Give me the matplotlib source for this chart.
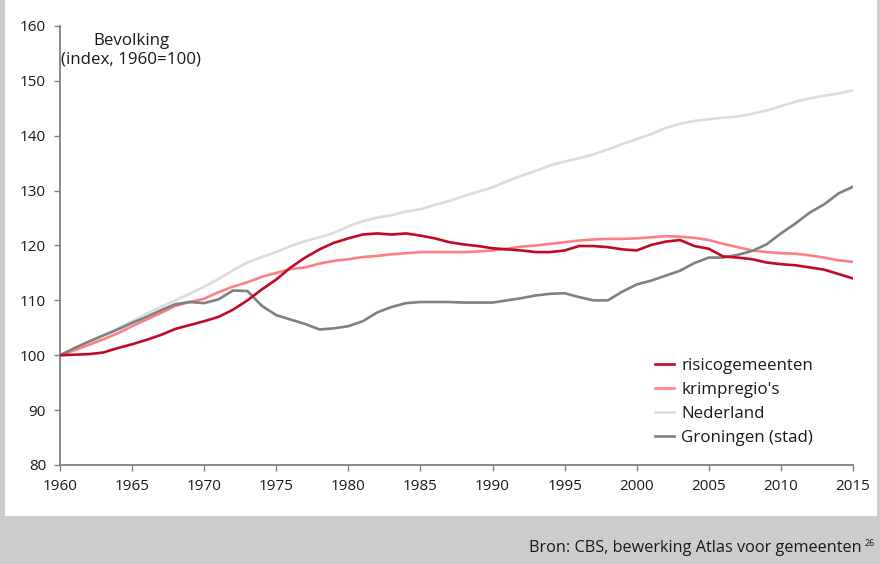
import matplotlib
matplotlib.use("Agg")
import matplotlib.pyplot as plt
from matplotlib.patches import Rectangle

plt.rcParams["font.family"] = ["Open Sans", "DejaVu Sans"]

years = list(range(1960, 2016))

# Index values (1960 = 100)
risicogemeenten = [
    100.0, 100.1, 100.2, 100.5, 101.3, 102.0, 102.8, 103.7, 104.8, 105.5,
    106.2, 107.0, 108.3, 110.0, 112.0, 113.8, 116.0, 117.8, 119.3, 120.5,
    121.3, 122.0, 122.2, 122.0, 122.2, 121.8, 121.3, 120.6, 120.2, 119.9,
    119.5, 119.3, 119.1, 118.8, 118.8, 119.1, 119.9, 119.9, 119.7, 119.3,
    119.1, 120.1, 120.7, 121.0, 119.9, 119.4, 118.0, 117.8, 117.5, 116.9,
    116.6, 116.4, 116.0, 115.6, 114.8, 114.0,
]
krimpregios = [
    100.0, 100.9, 101.9, 102.9, 104.0, 105.3, 106.5, 107.7, 109.0, 109.7,
    110.3, 111.5, 112.5, 113.3, 114.3, 115.0, 115.7, 116.0, 116.7, 117.2,
    117.5, 117.9, 118.1, 118.4, 118.6, 118.8, 118.8, 118.8, 118.8, 118.9,
    119.1, 119.4, 119.8, 120.0, 120.3, 120.6, 120.9, 121.1, 121.2, 121.2,
    121.3, 121.5, 121.7, 121.6, 121.4, 121.0, 120.3, 119.7, 119.1, 118.8,
    118.6, 118.5, 118.2, 117.8, 117.3, 117.0,
]
nederland = [
    100.0, 101.2, 102.4, 103.6, 104.9, 106.2, 107.6, 108.8, 110.0, 111.2,
    112.5, 113.9, 115.5, 116.9, 117.9, 118.8, 119.9, 120.8, 121.5, 122.3,
    123.5, 124.4, 125.1, 125.5, 126.2, 126.6, 127.4, 128.1, 129.0, 129.8,
    130.6, 131.7, 132.7, 133.6, 134.6, 135.3, 135.9, 136.6, 137.5, 138.5,
    139.4, 140.3, 141.4, 142.2, 142.7, 143.0, 143.3, 143.5, 144.0, 144.6,
    145.4, 146.2, 146.8, 147.3, 147.7, 148.3,
]
groningen = [
    100.0, 101.3, 102.5, 103.6, 104.7, 105.9, 107.0, 108.2, 109.3, 109.7,
    109.5, 110.2, 111.8, 111.7, 109.0, 107.3, 106.5, 105.7, 104.7, 104.9,
    105.3, 106.2, 107.8, 108.8, 109.5, 109.7, 109.7, 109.7, 109.6, 109.6,
    109.6, 110.0, 110.4, 110.9, 111.2, 111.3, 110.6, 110.0, 110.0, 111.6,
    112.9, 113.6, 114.5, 115.4, 116.8, 117.8, 117.8, 118.3, 119.0, 120.2,
    122.2, 124.0, 126.0, 127.5, 129.5, 130.7,
]

fig = plt.figure(figsize=(8.8, 5.64), dpi=100)
fig.patch.set_facecolor("#cccccc")
# white panel with grey frame strips left, right and bottom
fig.add_artist(Rectangle((5 / 880, 48 / 564), 872 / 880, 1, transform=fig.transFigure,
                         facecolor="white", edgecolor="none", zorder=0))

ax = fig.add_axes([60 / 880, 99 / 564, 793 / 880, 439 / 564])
ax.set_facecolor("none")

ax.plot(years, nederland, color="#dcdcdc", lw=1.9, label="Nederland", zorder=2)
ax.plot(years, krimpregios, color="#ff7f80", lw=1.9, label="krimpregio's", zorder=3)
ax.plot(years, groningen, color="#808080", lw=1.9, label="Groningen (stad)", zorder=4)
ax.plot(years, risicogemeenten, color="#c00b25", lw=1.9, label="risicogemeenten", zorder=5)

ax.set_xlim(1960, 2015)
ax.set_ylim(80, 160)
ax.set_xticks(range(1960, 2016, 5))
ax.set_yticks(range(80, 161, 10))

for side in ["top", "right"]:
    ax.spines[side].set_visible(False)
for side in ["left", "bottom"]:
    ax.spines[side].set_color("#808080")
    ax.spines[side].set_linewidth(1.3)
ax.tick_params(colors="#808080", labelcolor="#1a1a1a", labelsize=11,
               length=4, width=1.0, direction="out")
ax.tick_params(axis="x", pad=6)
ax.tick_params(axis="y", pad=6)

ax.text(0.09, 0.945, "Bevolking\n(index, 1960=100)", transform=ax.transAxes,
        ha="center", va="center", fontsize=12.2, color="#1a1a1a", linespacing=1.25)

handles, labels = ax.get_legend_handles_labels()
order = [3, 1, 0, 2]
fig.legend([handles[i] for i in order], [labels[i] for i in order],
           loc="center left", bbox_to_anchor=(655 / 880, 1 - 402 / 564),
           frameon=False, borderpad=0, borderaxespad=0,
           fontsize=12.2, handlelength=1.1, handletextpad=0.45, labelspacing=0.48,
           labelcolor="#1a1a1a")

fig.text(862 / 880, 1 - 548 / 564, "Bron: CBS, bewerking Atlas voor gemeenten",
         ha="right", va="center", fontsize=11.7, color="#1a1a1a")
fig.text(865 / 880, 1 - 543 / 564, "26", ha="left", va="center", fontsize=6.5,
         color="#1a1a1a")

fig.savefig("out.png", dpi=100, facecolor=fig.get_facecolor())
